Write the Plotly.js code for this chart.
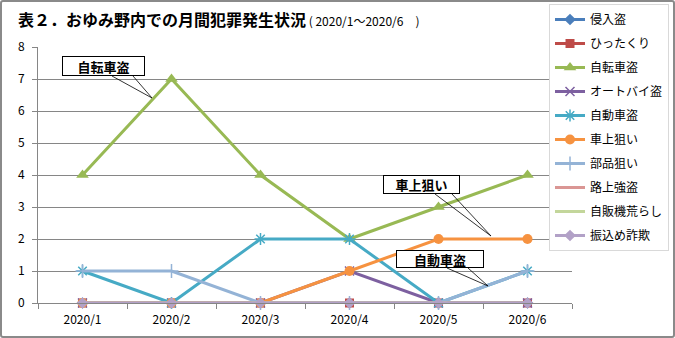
<!DOCTYPE html>
<html><head><meta charset="utf-8">
<script src="https://cdn.plot.ly/plotly-3.0.1.min.js"></script>
<style>
body{margin:0;padding:0;background:#fff;}
#wrap{position:relative;width:675px;height:338px;}
#frame{position:absolute;left:0;top:0;width:675px;height:338px;box-sizing:border-box;border:2px solid #8a8a8a;border-radius:3px;pointer-events:none;}
</style></head>
<body>
<div id="wrap"><div id="chart" style="width:675px;height:338px;"></div><div id="frame"></div></div>
<script>
const months = ['2020/1','2020/2','2020/3','2020/4','2020/5','2020/6'];
const shinnyu   = [0,0,0,0,0,0];
const hittakuri = [0,0,0,0,0,0];
const jitensha  = [4,7,4,2,3,4];
const autobai   = [0,0,0,1,0,0];
const jidousha  = [1,0,2,2,0,1];
const shajou    = [0,0,0,1,2,2];
const buhin     = [1,1,0,0,0,1];
const rojou     = [0,0,0,0,0,0];
const jihanki   = [0,0,0,0,0,0];
const furikome  = [0,0,0,0,0,0];

const FONT = '"Noto Sans CJK JP", "Noto Sans", sans-serif';
// plot area in pixels
const L = 38, R = 572, T = 47, B = 303;
const px = x => (x - L) / (R - L);
const py = y => (B - y) / (B - T);

function tr(name, y, color, symbol, opts) {
  opts = opts || {};
  const t = {
    type: 'scatter', mode: symbol ? 'lines+markers' : 'lines',
    name: name, x: months, y: y, legendgroup: name,
    line: {color: color, width: 3},
    cliponaxis: false
  };
  if (symbol) {
    t.marker = {symbol: symbol, color: color, size: opts.size || 9,
      line: {color: opts.lc || color, width: opts.lw || 0}};
  }
  return t;
}

const data = [
  tr('侵入盗', shinnyu, '#4A7EBB', 'diamond'),
  tr('ひったくり', hittakuri, '#BE4B48', 'square', {size: 9}),
  tr('自転車盗', jitensha, '#98B954', 'triangle-up', {size: 11}),
  tr('オートバイ盗', autobai, '#7D60A0', 'x-thin-open', {size: 9, lw: 1.5}),
  tr('自動車盗', jidousha, '#46AAC5', 'asterisk-open', {size: 10, lw: 1.5}),
  tr('車上狙い', shajou, '#F69240', 'circle', {size: 10}),
  tr('部品狙い', buhin, '#94B3D6', 'cross-thin-open', {size: 10, lw: 1.5}),
  tr('路上強盗', rojou, '#DA9694', null),
  tr('自販機荒らし', jihanki, '#C3D69B', null),
  tr('振込め詐欺', furikome, '#B2A1C7', 'diamond', {size: 9})
];

function callout(text, bx0, by0, bx1, by1, w0, w1, tipx, tipy) {
  return {
    ann: {
      xref: 'paper', yref: 'paper', x: px((bx0 + bx1) / 2), y: py((by0 + by1) / 2),
      xanchor: 'center', yanchor: 'middle', showarrow: false,
      text: '<b>' + text + '</b>', font: {family: FONT, size: 13, color: '#000'},
      bgcolor: '#fff', bordercolor: '#000', borderwidth: 1, borderpad: 0,
      width: bx1 - bx0 - 2, height: by1 - by0 - 2
    },
    shape: {
      type: 'path', xref: 'paper', yref: 'paper', layer: 'above',
      path: 'M ' + px(w0) + ' ' + py(by1) + ' L ' + px(tipx) + ' ' + py(tipy) + ' L ' + px(w1) + ' ' + py(by1),
      line: {color: '#000', width: 0.8}
    }
  };
}

const c1 = callout('自転車盗', 62, 56, 145, 76, 112, 133, 152, 98);
const c2 = callout('車上狙い', 383, 175, 460, 194, 435, 452, 491, 236);
const c3 = callout('自動車盗', 396, 250, 484, 268, 447, 468, 488, 286);

const layout = {
  width: 675, height: 338,
  margin: {l: L, r: 675 - R, t: T, b: 338 - B, pad: 0, autoexpand: false},
  paper_bgcolor: '#fff', plot_bgcolor: '#fff',
  font: {family: FONT, size: 12, color: '#000'},
  title: {
    text: '<b>表２．おゆみ野内での月間犯罪発生状況</b><span style="font-size:12px;font-weight:normal"> ( 2020/1～2020/6　)</span>',
    font: {family: FONT, size: 16, color: '#000'},
    xref: 'container', yref: 'container', x: 18 / 675, xanchor: 'left',
    y: 1 - 20 / 338, yanchor: 'middle'
  },
  xaxis: {
    type: 'category', showgrid: false, zeroline: false,
    showline: true, linecolor: '#868686', linewidth: 1,
    ticks: 'outside', ticklen: 5, tickcolor: '#868686', tickson: 'boundaries',
    ticklabelstandoff: 6,
    tickfont: {family: FONT, size: 12, color: '#000'},
    range: [-0.5, 5.5], fixedrange: true
  },
  yaxis: {
    range: [0, 8], dtick: 1, showgrid: true, gridcolor: '#868686', gridwidth: 1,
    zeroline: false, showline: true, linecolor: '#868686', linewidth: 1,
    ticks: 'outside', ticklen: 5, tickcolor: '#868686',
    ticklabelstandoff: 5,
    tickfont: {family: FONT, size: 12, color: '#000'}
  },
  legend: {
    x: px(669), y: py(4), xanchor: 'right', yanchor: 'top',
    bgcolor: '#fff', bordercolor: '#D9D9D9', borderwidth: 1,
    font: {family: FONT, size: 12, color: '#000'},
    tracegroupgap: 5, itemwidth: 30, maxheight: 320
  },
  showlegend: true,
  annotations: [c1.ann, c2.ann, c3.ann],
  shapes: [c1.shape, c2.shape, c3.shape]
};

Plotly.newPlot('chart', data, layout, {displayModeBar: false, staticPlot: true});
</script>
</body></html>
